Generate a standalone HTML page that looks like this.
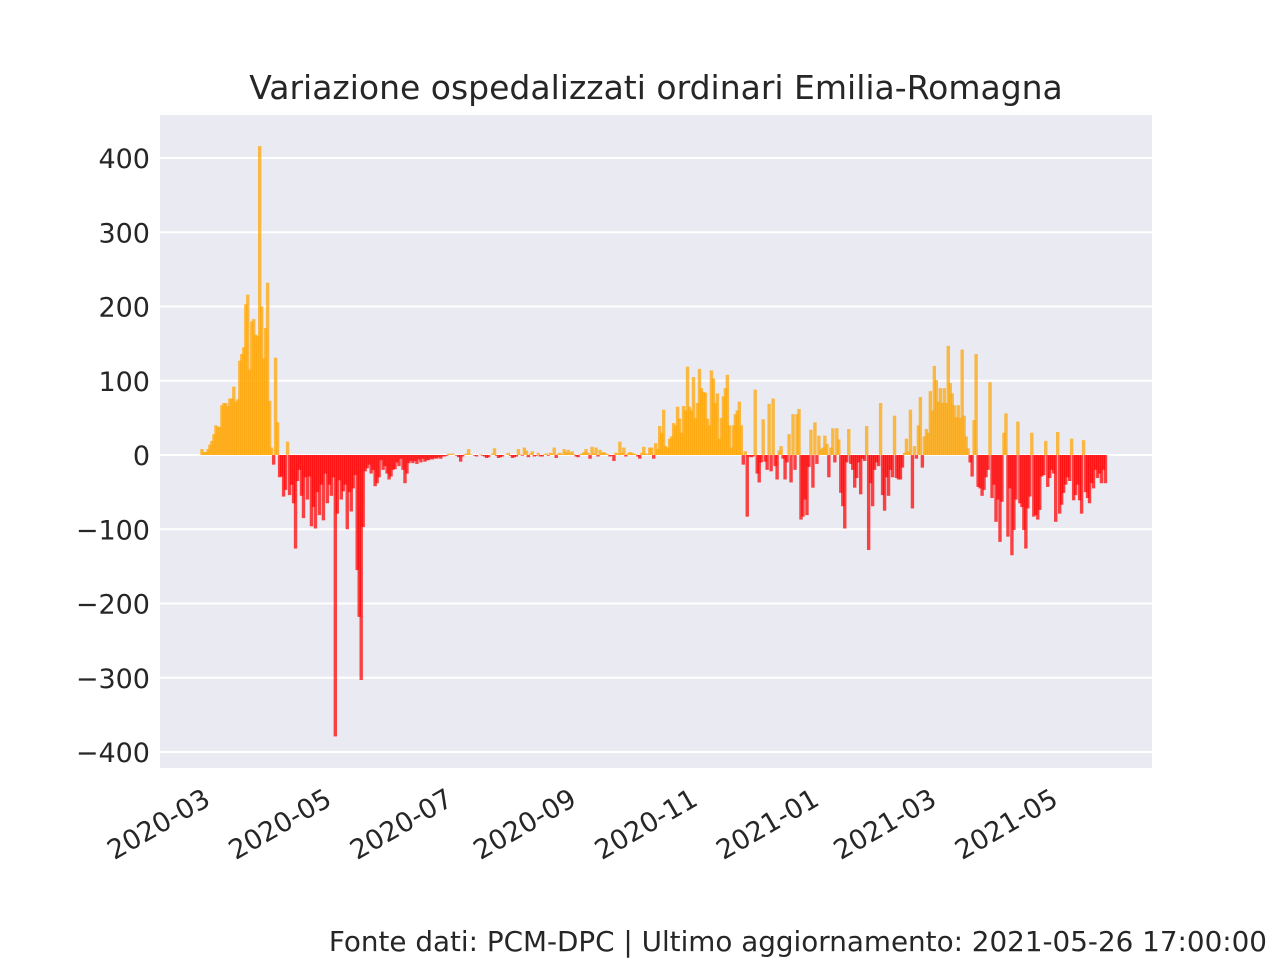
<!DOCTYPE html>
<html><head><meta charset="utf-8">
<style>
html,body{margin:0;padding:0;background:#fff;}
svg{display:block;font-family:"DejaVu Sans","Liberation Sans",sans-serif;}
</style></head>
<body>
<svg id="chart" width="1280" height="960" viewBox="0 0 1280 960">
  <rect x="0" y="0" width="1280" height="960" fill="#ffffff"/>
  <text x="656" y="99" font-size="33" fill="#262626" text-anchor="middle">Variazione ospedalizzati ordinari Emilia-Romagna</text>
  <rect x="160" y="115" width="992" height="653" fill="#EAEAF2"/>
  <g id="grid"></g>
  <g id="bars"></g>
  <g id="yticks"></g>
  <g id="xticks"></g>
  <text x="1267" y="951" font-size="27.8" fill="#262626" text-anchor="end">Fonte dati: PCM-DPC | Ultimo aggiornamento: 2021-05-26 17:00:00</text>
</svg>
<script>
// daily change values, index 0 = 2020-02-25
const valuesSpring = [8,4,4,8,14,19,28,40,38,38,67,70,70,66,76,76,92,72,75,127,136,145,203,216,115,180,183,162,160,416,
200,130,171,232,73,10,-13,131,44,-30,
-29,-56,-47,18,-54,-40,-65,-126,-35,-20,
-55,-85,-30,-60,-29,-96,-70,-99,-50,-81,
-40,-88,-25,-65,-40,-55,-30,-379,-79,-34,
-60,-49,-40,-100,-50,-76,-45,-27,-155,-218,
-303,-97,-22,-18,-13,-25,-20,-42,-38,-30,
-7,-20,-15,-25,-33,-29,-20,-19,-10,-15,
-5,-20,-38,-25,-11,-8];
const valuesSummer = [-11,-8,-12,-6,-10,-5,-9,-7,
-7,-5,-6,-4,-5,-3,-5,-2,
-2,-1,2,1,2,0,-1,-3,
-9,-2,1,2,8,1,0,-1,
-2,0,1,-1,-2,-4,-3,0,
2,9,-1,-4,-3,-2,0,1,
3,-1,-4,-3,-2,8,1,-1,
10,6,-3,2,5,-2,-1,3,
-2,-2,1,2,-1,3,2,10,
-4,2,3,1,8,4,7,3,
5,1,-2,-3,1,2,4,8,
3,-5,11,2,10,-2,7,3,
4,2,1,-2,-1,-8,3,2,
18,3,10,-2,2,4,3,2,
1,-2,-5,3,11,2,1,10];
const valuesAutumn = [10,-5,16,8,39,30,61,12,10,22,
25,43,40,65,49,30,66,60,119,65,
60,105,50,70,116,90,85,84,49,40,
114,103,70,83,22,50,79,90,108,40,
10,40,55,60,72,40,-13,5,-83,-2,
-3,-2,88,-25,-37,-10,48,-9,-20,69,
-22,76,-15,-33,6,12,-5,-33,-10,28,
-37,55,-20,55,62,-87,-83,-60,-81,-16,
34,-44,44,-12,26,8,10,26,15,-30,
10,36,-10,36,21,-51,-69,-99,-10,35,
-12,-20,-44,-31,-10,-53,-5,-8,39,-128,
-38,-69,-20,-10,-15,70,-54,-75,-30,-55,
-20,-30,53,-31,-33,-33,-17,3,22,5,
61,-72,12,-5,40,78,-17,25,35,30,
86,60,120,101,72,90,70,90,70,147,
97,83,67,51,67,50,142,53,25,9,
-10,-29,47,136,-43,-45,-55,-47,-30,-20,
98,-58,-40,-90,-60,-117,-63,30,56,-110,
-45,-135,-101,-60,45,-65,-70,-101,-126,-72,
-56,30,-83,-81,-87,-74,-29,-27,19,-43,
-31,-20,-25,-90,31,-79,-67,-51,-40,-30,
-35,22,-61,-54,-40,-61,-79,20,-50,-58,
-65,-38,-45,-20,-31,-25,-38,-20,-38];
const values = valuesSpring.concat(valuesSummer, valuesAutumn);
const yTicks = [-400,-300,-200,-100,0,100,200,300,400];
const xTickLabels = ["2020-03","2020-05","2020-07","2020-09","2020-11","2021-01","2021-03","2021-05"];
const xTickIndex = [5,66,127,189,250,311,370,431];

const NS = "http://www.w3.org/2000/svg";
function xScale(i){ return 202 + 1.99 * i; }
function yScale(v){ return 455 - v * 0.7425; }

const grid = document.getElementById('grid');
const yg = document.getElementById('yticks');
yTicks.forEach(function(t){
  const l = document.createElementNS(NS,'line');
  l.setAttribute('x1',160); l.setAttribute('x2',1152);
  l.setAttribute('y1',yScale(t)); l.setAttribute('y2',yScale(t));
  l.setAttribute('stroke','#ffffff'); l.setAttribute('stroke-width','2');
  
  
  grid.appendChild(l);
  const tx = document.createElementNS(NS,'text');
  tx.setAttribute('x',150); tx.setAttribute('y',yScale(t)+10);
  tx.setAttribute('text-anchor','end'); tx.setAttribute('font-size','27'); tx.setAttribute('fill','#262626');
  tx.textContent = (t<0 ? '\u2212'+Math.abs(t) : String(t));
  
  
  yg.appendChild(tx);
});

const bg = document.getElementById('bars');
values.forEach(function(v,i){
  const r = document.createElementNS(NS,'rect');
  const x = xScale(i) - 1.7;
  const y0 = yScale(0), y1 = yScale(v);
  r.setAttribute('x', x.toFixed(2));
  r.setAttribute('width', '3.4');
  r.setAttribute('y', Math.min(y0,y1).toFixed(2));
  r.setAttribute('height', Math.max(0.01, Math.abs(y1-y0)).toFixed(2));
  r.setAttribute('fill', v >= 0 ? '#FFA500' : '#FF0000');
  r.setAttribute('fill-opacity', '0.72');
  
  
  bg.appendChild(r);
});

const xg = document.getElementById('xticks');
xTickLabels.forEach(function(lab,k){
  const tx = document.createElementNS(NS,'text');
  const px = xScale(xTickIndex[k]);
  tx.setAttribute('transform','translate('+px+',804) rotate(-30)');
  tx.setAttribute('text-anchor','end'); tx.setAttribute('font-size','27'); tx.setAttribute('fill','#262626');
  tx.textContent = lab;
  
  
  xg.appendChild(tx);
});
</script>
</body></html>
